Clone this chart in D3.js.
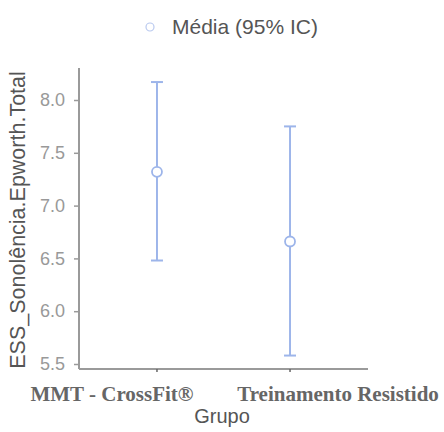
<!DOCTYPE html>
<html>
<head>
<meta charset="utf-8">
<script src="https://cdn.jsdelivr.net/npm/d3@7"></script>
<style>
  body { margin: 0; background: #fff; }
  svg { display: block; font-family: "Liberation Sans", Arial, sans-serif; }
</style>
</head>
<body>
<div id="chart"></div>
<script>
const groups = ["MMT - CrossFit®", "Treinamento Resistido"];
const means = [7.32, 6.66];
const lower = [6.48, 5.58];
const upper = [8.17, 7.75];
const yTicks = [5.5, 6.0, 6.5, 7.0, 7.5, 8.0];

const data = groups.map((g, i) => ({group: g, mean: means[i], lo: lower[i], hi: upper[i]}));

const svg = d3.select("#chart")
              .append("svg")
              .attr("width", 444)
              .attr("height", 432);

const margin = {top: 68, left: 79},
      width = 289,
      height = 301;

const g = svg.append("g").attr("transform", `translate(${margin.left},${margin.top})`);

const x = d3.scalePoint()
            .domain(groups)
            .range([0, width])
            .padding(0.586);

const y = d3.scaleLinear()
            .domain([5.5, 8.0])
            .range([296, 32]);

const blue = "#9db5ea";
const axisCol = "#9a9a9a";

// y axis
const yAxis = g.append("g")
  .call(d3.axisLeft(y).tickValues(yTicks).tickFormat(d3.format(".1f")).tickSize(5).tickSizeOuter(0));
yAxis.select(".domain").remove();
yAxis.selectAll("line").attr("stroke", axisCol).attr("stroke-width", 1.5);
yAxis.selectAll("text")
     .attr("fill", "#999")
     .attr("font-family", "'Liberation Sans', Arial, sans-serif")
     .attr("font-size", "18px")
     .attr("x", -14);
g.append("line")
 .attr("x1", 0).attr("x2", 0)
 .attr("y1", 0).attr("y2", height)
 .attr("stroke", axisCol).attr("stroke-width", 2);

// x axis
g.append("line")
 .attr("x1", 0).attr("x2", width)
 .attr("y1", height).attr("y2", height)
 .attr("stroke", axisCol).attr("stroke-width", 2);
g.selectAll(".xtick")
 .data(groups)
 .enter().append("line")
 .attr("x1", d => x(d)).attr("x2", d => x(d))
 .attr("y1", height).attr("y2", height + 3)
 .attr("stroke", "#666").attr("stroke-width", 1.5);

const labelShift = [-45, 48];
g.selectAll(".xlabel")
 .data(groups)
 .enter().append("text")
 .attr("x", (d, i) => x(d) + labelShift[i])
 .attr("y", 333)
 .attr("text-anchor", "middle")
 .attr("font-family", "'Liberation Serif', 'Times New Roman', serif")
 .attr("font-weight", "bold")
 .attr("font-size", "21px")
 .attr("fill", "#666")
 .text(d => d);

// error bars
const bars = g.selectAll(".bar").data(data).enter().append("g");
bars.append("line")
    .attr("x1", d => x(d.group)).attr("x2", d => x(d.group))
    .attr("y1", d => y(d.hi)).attr("y2", d => y(d.lo))
    .attr("stroke", blue).attr("stroke-width", 2);
bars.append("line")
    .attr("x1", d => x(d.group) - 6).attr("x2", d => x(d.group) + 6)
    .attr("y1", d => y(d.hi)).attr("y2", d => y(d.hi))
    .attr("stroke", blue).attr("stroke-width", 2);
bars.append("line")
    .attr("x1", d => x(d.group) - 6).attr("x2", d => x(d.group) + 6)
    .attr("y1", d => y(d.lo)).attr("y2", d => y(d.lo))
    .attr("stroke", blue).attr("stroke-width", 2);
bars.append("circle")
    .attr("cx", d => x(d.group))
    .attr("cy", d => y(d.mean))
    .attr("r", 5)
    .attr("fill", "#fff")
    .attr("stroke", blue)
    .attr("stroke-width", 1.8);

// axis titles
svg.append("text")
   .attr("transform", "translate(25,220) rotate(-90)")
   .attr("text-anchor", "middle")
   .attr("font-size", "21.5px")
   .attr("fill", "#555")
   .text("ESS_Sonolência.Epworth.Total");

svg.append("text")
   .attr("x", 222)
   .attr("y", 423)
   .attr("text-anchor", "middle")
   .attr("font-size", "20px")
   .attr("fill", "#555")
   .text("Grupo");

// legend
svg.append("circle")
   .attr("cx", 150).attr("cy", 27).attr("r", 4)
   .attr("fill", "#fff").attr("stroke", "#b9c9ef").attr("stroke-width", 1.2);
svg.append("text")
   .attr("x", 172).attr("y", 34)
   .attr("font-size", "21px")
   .attr("fill", "#555")
   .text("Média (95% IC)");
</script>
</body>
</html>
